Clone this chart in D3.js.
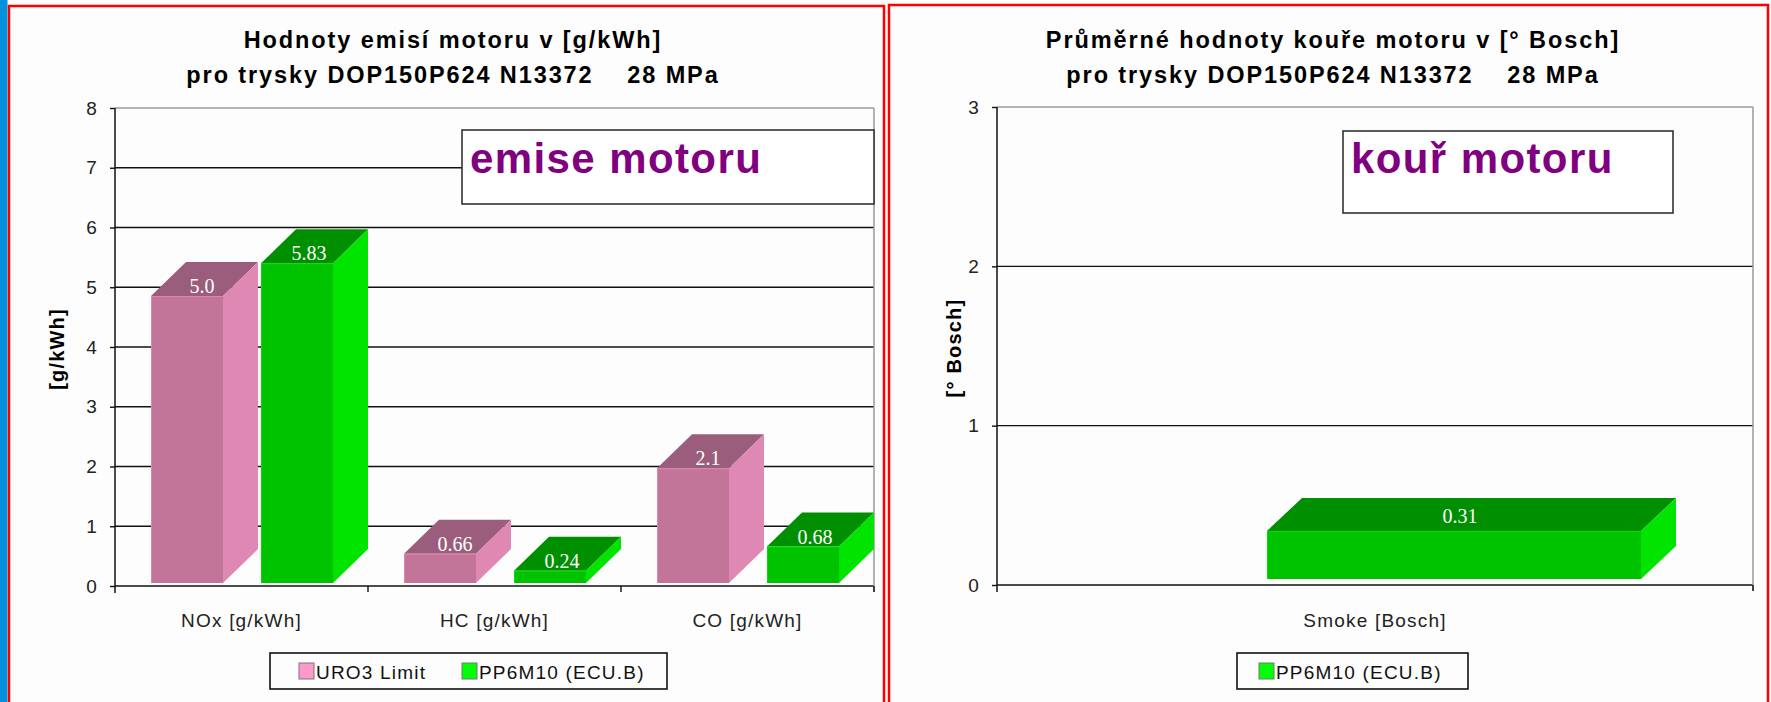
<!DOCTYPE html>
<html><head><meta charset="utf-8">
<script src="https://cdn.jsdelivr.net/npm/d3@7"></script>
<style>
body{margin:0;background:#fcfdfc;overflow:hidden;}
</style>
</head><body>
<svg id="c" width="1771" height="702" font-family="'Liberation Sans',Arial,sans-serif"></svg>
<script>
// ---- data ----
const emissionCategories = ["NOx [g/kWh]", "HC [g/kWh]", "CO [g/kWh]"];
const euro3Limit = [5.0, 0.66, 2.1];
const euro3Labels = ["5.0", "0.66", "2.1"];
const pp6m10 = [5.83, 0.24, 0.68];
const pp6m10Labels = ["5.83", "0.24", "0.68"];
const emissionTicks = [0, 1, 2, 3, 4, 5, 6, 7, 8];
const smokeCategories = ["Smoke [Bosch]"];
const smokeValues = [0.31];
const smokeLabels = ["0.31"];
const smokeTicks = [0, 1, 2, 3];
const seriesNames = ["URO3 Limit", "PP6M10 (ECU.B)"];
const titlesLeft = ["Hodnoty emisí motoru v [g/kWh]", "pro trysky DOP150P624 N13372    28 MPa"];
const titlesRight = ["Průměrné hodnoty kouře motoru v [° Bosch]", "pro trysky DOP150P624 N13372    28 MPa"];

// ---- styles ----
const pink = {front: "#c27599", side: "#df88b4", top: "#9a5e7c", legend: "#ff99cc"};
const green = {front: "#00c300", side: "#00e400", top: "#008f00", legend: "#00ff00"};
const svg = d3.select("#c");

svg.append("rect").attr("width", 1771).attr("height", 702).attr("fill", "#fcfdfc");
svg.append("rect").attr("x", 0).attr("y", 0).attr("width", 7.5).attr("height", 702).attr("fill", "#0092dc");
svg.append("rect").attr("x", 9).attr("y", 6).attr("width", 875).attr("height", 720)
  .attr("fill", "none").attr("stroke", "#ff0000").attr("stroke-width", 2.5);
svg.append("rect").attr("x", 889).attr("y", 5).attr("width", 879).attr("height", 720)
  .attr("fill", "none").attr("stroke", "#ff0000").attr("stroke-width", 2.5);

const tickFont = {size: "19px", ls: "1.2px"};

function title(cx, lines) {
  lines.forEach((t, i) => {
    svg.append("text").attr("x", cx).attr("y", 48 + i * 35).attr("text-anchor", "middle")
      .attr("font-size", "23.5px").attr("font-weight", "bold").attr("letter-spacing", "1.9px")
      .style("white-space", "pre").attr("fill", "#000").text(t);
  });
}

function bar3d(g, x, w, base, top, c, dx, dy) {
  g.append("path").attr("d", `M${x},${top}L${x + dx},${top - dy}L${x + w + dx},${top - dy}L${x + w},${top}Z`).attr("fill", c.top);
  g.append("path").attr("d", `M${x + w},${top}L${x + w + dx},${top - dy}L${x + w + dx},${base - dy}L${x + w},${base}Z`).attr("fill", c.side);
  g.append("rect").attr("x", x).attr("y", top).attr("width", w).attr("height", base - top).attr("fill", c.front);
  g.append("line").attr("x1", x + 0.5).attr("x2", x + 0.5).attr("y1", top).attr("y2", base).attr("stroke", d3.color(c.front).brighter(0.35)).attr("stroke-width", 1);
  g.append("line").attr("x1", x).attr("x2", x + w).attr("y1", top + 0.5).attr("y2", top + 0.5).attr("stroke", d3.color(c.front).brighter(0.35)).attr("stroke-width", 1);
}

function valueLabel(g, x, y, t) {
  g.append("text").attr("x", x).attr("y", y).attr("text-anchor", "middle")
    .attr("font-family", "'Liberation Serif','Times New Roman',serif").attr("font-size", "20px")
    .attr("fill", "#ffffff").text(t);
}

function plotFrame(yScale, ticks, x0, x1, band, cats, yTitle, yTitleX) {
  const g = svg.append("g");
  const top = yScale(ticks[ticks.length - 1]);
  const zero = yScale(0);
  ticks.forEach((t, i) => {
    const last = i === ticks.length - 1;
    g.append("line").attr("x1", x0).attr("x2", x1).attr("y1", yScale(t)).attr("y2", yScale(t))
      .attr("stroke", last ? "#9a9a9a" : "#111").attr("stroke-width", last ? 1.5 : 1.4);
  });
  g.append("line").attr("x1", x1).attr("x2", x1).attr("y1", top).attr("y2", zero + 6)
    .attr("stroke", "#9a9a9a").attr("stroke-width", 1.5);
  const ax = g.append("g").attr("transform", `translate(${x0},0)`)
    .call(d3.axisLeft(yScale).tickValues(ticks).tickSize(5).tickSizeOuter(0).tickPadding(12).tickFormat(d3.format("d")));
  ax.attr("font-family", null).attr("font-size", null);
  ax.select(".domain").remove();
  ax.selectAll("line").attr("stroke", "#111").attr("stroke-width", 1.4);
  ax.selectAll("text").attr("font-family", "'Liberation Sans',Arial,sans-serif").attr("font-size", tickFont.size)
    .attr("letter-spacing", tickFont.ls).attr("fill", "#222");
  g.append("line").attr("x1", x0).attr("x2", x0).attr("y1", top).attr("y2", zero + 7)
    .attr("stroke", "#111").attr("stroke-width", 1.5);
  cats.forEach(c => {
    const xe = band(c) + band.step();
    g.append("line").attr("x1", xe).attr("x2", xe).attr("y1", zero).attr("y2", zero + 6)
      .attr("stroke", "#111").attr("stroke-width", 1.4);
  });
  cats.forEach(c => {
    g.append("text").attr("x", band(c) + band.bandwidth() / 2).attr("y", 627).attr("text-anchor", "middle")
      .attr("font-size", tickFont.size).attr("letter-spacing", tickFont.ls).attr("fill", "#222").text(c);
  });
  svg.append("text").attr("transform", `translate(${yTitleX},${(top + zero) / 2 + 2}) rotate(-90)`)
    .attr("text-anchor", "middle").attr("font-size", "20px").attr("font-weight", "bold")
    .attr("letter-spacing", "1.2px").attr("fill", "#000").text(yTitle);
  return g;
}

function annotation(x, y, w, h, t) {
  svg.append("rect").attr("x", x).attr("y", y).attr("width", w).attr("height", h)
    .attr("fill", "#ffffff").attr("stroke", "#333").attr("stroke-width", 1.6);
  svg.append("text").attr("x", x + 8).attr("y", 173).attr("font-size", "42px").attr("font-weight", "bold")
    .attr("letter-spacing", "1.4px").attr("fill", "#800080").text(t);
}

function legend(x, y, w, h, items) {
  svg.append("rect").attr("x", x).attr("y", y).attr("width", w).attr("height", h)
    .attr("fill", "#fcfdfc").attr("stroke", "#111").attr("stroke-width", 1.6);
  items.forEach(it => {
    svg.append("rect").attr("x", it.x).attr("y", y + 10).attr("width", 15).attr("height", 16)
      .attr("fill", it.color).attr("stroke", "#777").attr("stroke-width", 1);
    svg.append("text").attr("x", it.x + 17).attr("y", y + 26).attr("font-size", tickFont.size)
      .attr("letter-spacing", tickFont.ls).attr("fill", "#111").text(it.name);
  });
}

// ---- left chart ----
title(453, titlesLeft);
const xL = d3.scaleBand().domain(emissionCategories).range([115, 874]);
const yL = d3.scaleLinear().domain([0, 8]).range([586, 108]);
// front-face (perspective) scales for the two series
const yTopPink = d3.scaleLinear().domain([0, 8]).range([593, 593 - 8 * 59.4]);
const yTopGreen = d3.scaleLinear().domain([0, 8]).range([584, 584 - 8 * 55]);
plotFrame(yL, emissionTicks, 115, 874, xL, emissionCategories, "[g/kWh]", 64);
annotation(462, 130, 412, 74, "emise motoru");
const gL = svg.append("g");
const baseL = 583, wL = 72, dxL = 35, dyL = 34;
emissionCategories.forEach((c, i) => {
  const xp = xL(c) + 36, xg = xL(c) + 146;
  const tp = yTopPink(euro3Limit[i]);
  const tg = yTopGreen(pp6m10[i]);
  bar3d(gL, xp, wL, baseL, tp, pink, dxL, dyL);
  bar3d(gL, xg, wL, baseL, tg, green, dxL, dyL);
  valueLabel(gL, xp + wL / 2 + 15, tp - 3, euro3Labels[i]);
  valueLabel(gL, xg + wL / 2 + 12, tg - 3, pp6m10Labels[i]);
});
legend(270, 653, 397, 36, [{x: 299, color: pink.legend, name: seriesNames[0]}, {x: 462, color: green.legend, name: seriesNames[1]}]);

// ---- right chart ----
title(1333, titlesRight);
const xR = d3.scaleBand().domain(smokeCategories).range([997, 1753]);
const yR = d3.scaleLinear().domain([0, 3]).range([585, 107]);
const hR = d3.scaleLinear().domain([0, 3]).range([0, 465]);
plotFrame(yR, smokeTicks, 997, 1753, xR, smokeCategories, "[° Bosch]", 961);
annotation(1343, 131, 330, 82, "kouř motoru");
const gR = svg.append("g");
const baseR = 579;
smokeCategories.forEach((c, i) => {
  const xg = xR(c) + 270, w = 374;
  const tg = baseR - hR(smokeValues[i]);
  bar3d(gR, xg, w, baseR, tg, green, 35, 33);
  valueLabel(gR, xg + w / 2 + 6, tg - 8, smokeLabels[i]);
});
legend(1237, 653, 231, 36, [{x: 1259, color: green.legend, name: seriesNames[1]}]);
</script>
</body></html>
